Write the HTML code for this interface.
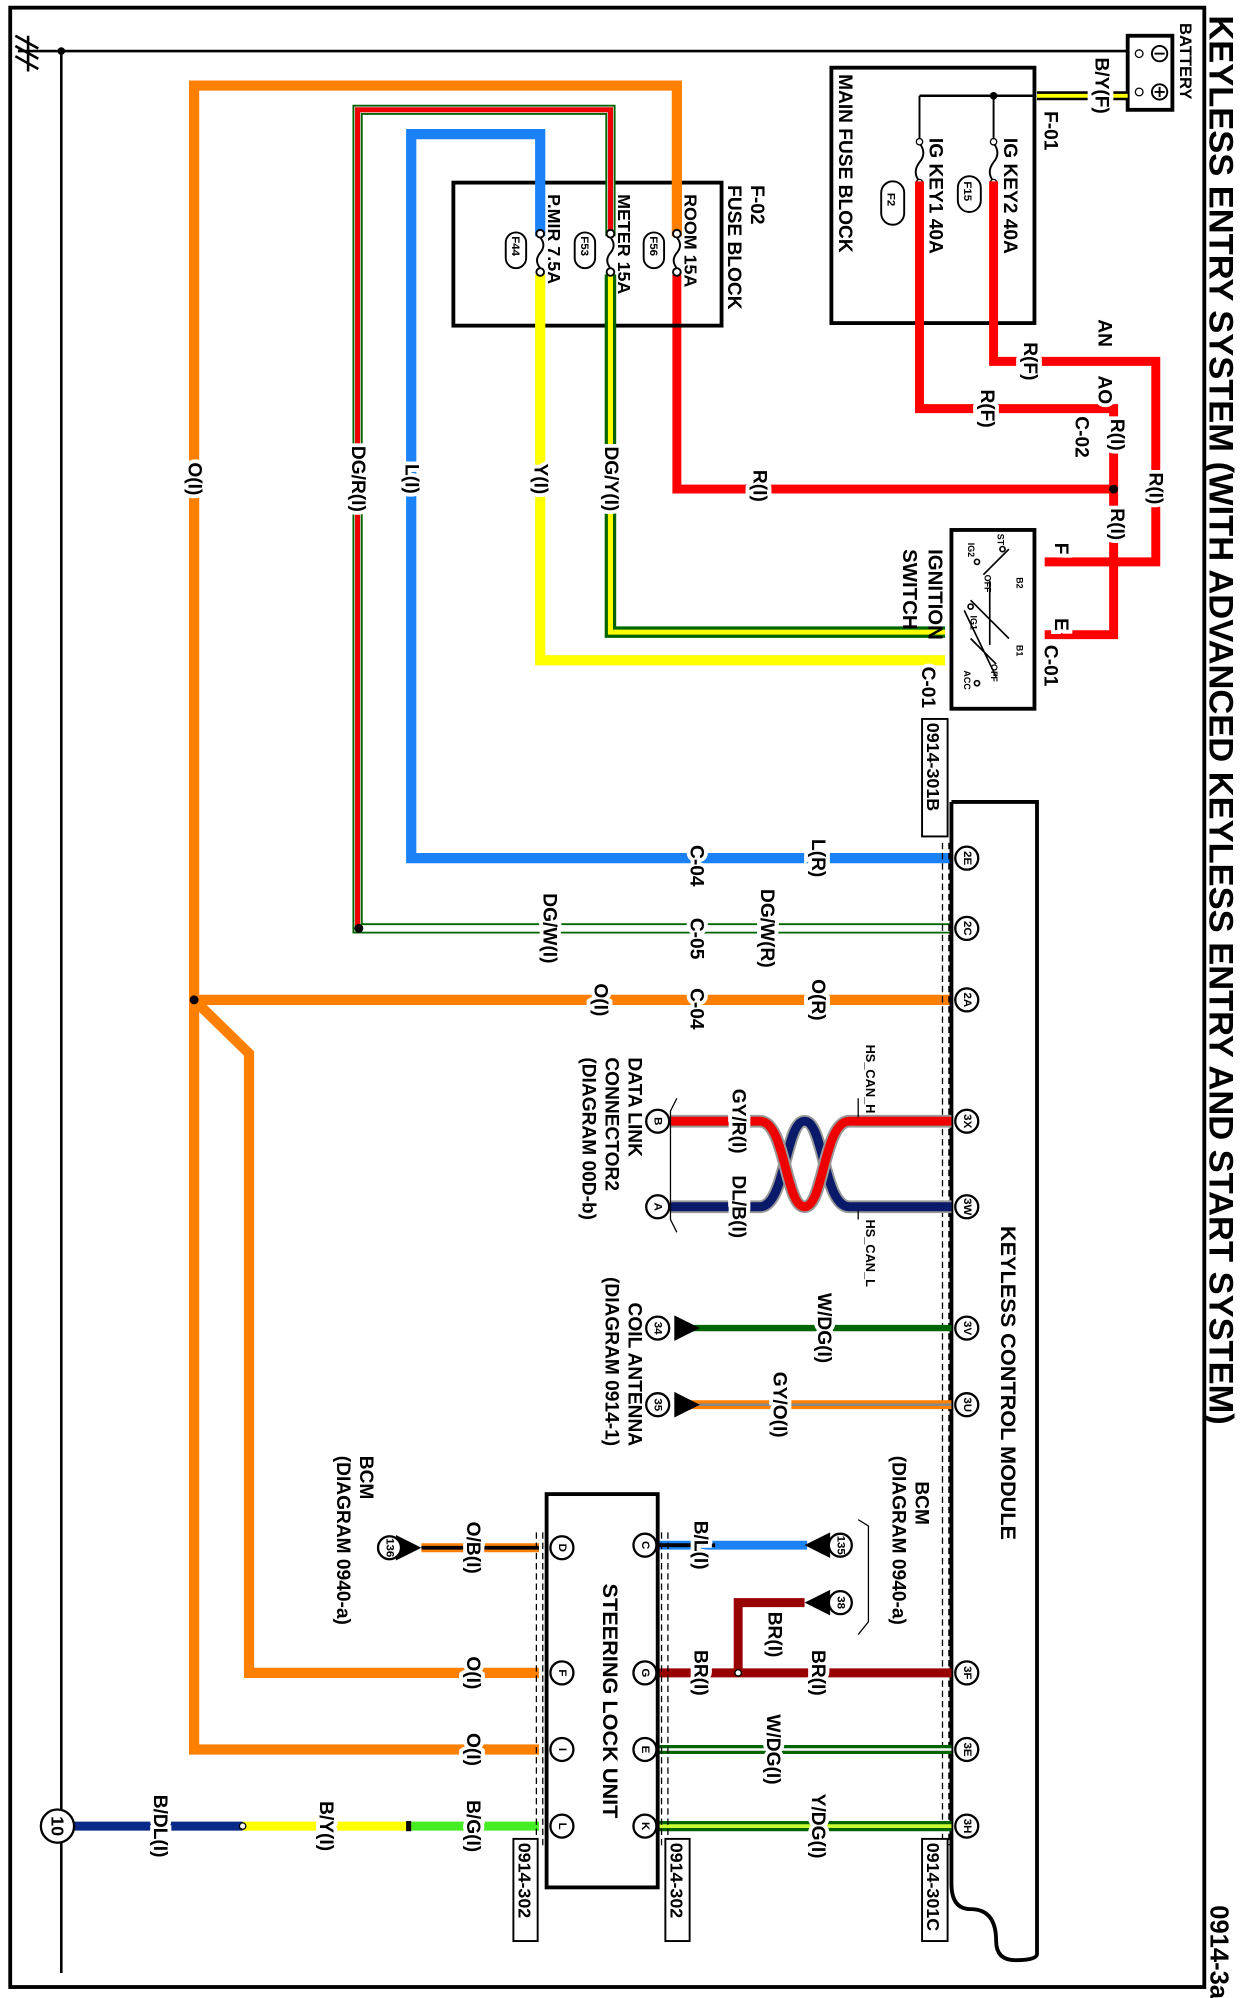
<!DOCTYPE html>
<html><head><meta charset="utf-8"><style>
html,body{margin:0;padding:0;background:#fff;}
svg{display:block;}
text{font-family:"Liberation Sans",sans-serif;font-weight:bold;fill:#000;}
.lb{font-size:15px;paint-order:stroke;stroke:#fff;stroke-width:6px;}
.sm{font-size:9px;}
</style></head><body>
<svg width="1249" height="1998" viewBox="0 0 978 1564.6" preserveAspectRatio="none" xmlns="http://www.w3.org/2000/svg">
<rect x="8" y="6" width="935" height="1550" fill="none" stroke="#000" stroke-width="3"/>
<text transform="translate(947,12) rotate(90)" style="font-size:27px">KEYLESS ENTRY SYSTEM (WITH ADVANCED KEYLESS ENTRY AND START SYSTEM)</text>
<text transform="translate(948,1492) rotate(90)" style="font-size:20px">0914-3a</text>

<g stroke="#000" stroke-width="2" fill="none">
<line x1="14" y1="40" x2="885" y2="40"/>
<line x1="48" y1="40" x2="48" y2="1545"/>
<line x1="12" y1="28" x2="30" y2="38"/><line x1="12" y1="36" x2="30" y2="46"/><line x1="12" y1="44" x2="30" y2="54"/>
<line x1="22" y1="28" x2="22" y2="56"/>
</g>
<circle cx="48" cy="40" r="3"/>
<rect x="883" y="28" width="35" height="58" fill="#fff" stroke="#000" stroke-width="3"/>
<circle cx="908" cy="42" r="6" fill="none" stroke="#000" stroke-width="1.5"/><line x1="904" y1="42" x2="912" y2="42" stroke="#000" stroke-width="1.5"/>
<circle cx="908" cy="72" r="6" fill="none" stroke="#000" stroke-width="1.5"/><path d="M904 72h8M908 68v8" stroke="#000" stroke-width="1.5"/>
<circle cx="892" cy="42" r="3" fill="none" stroke="#000"/><circle cx="892" cy="72" r="3" fill="none" stroke="#000"/>
<text transform="translate(924,18) rotate(90)" style="font-size:13px">BATTERY</text>
<line x1="812" y1="75" x2="883" y2="75" stroke="#000" stroke-width="7"/>
<line x1="812" y1="75" x2="883" y2="75" stroke="#ff0" stroke-width="3"/>
<text class="lb" transform="translate(858,45) rotate(90)">B/Y(F)</text>
<text class="lb" transform="translate(818,87) rotate(90)">F-01</text>

<rect x="651" y="53" width="159" height="200" fill="none" stroke="#000" stroke-width="3"/>
<text transform="translate(657,58) rotate(90)" style="font-size:15px">MAIN FUSE BLOCK</text>
<path d="M720 75H810" stroke="#000" stroke-width="2" fill="none"/>
<path d="M720 75V110M778 75V110" stroke="#000" stroke-width="1.5" fill="none"/>
<circle cx="778" cy="75" r="3"/>
<path d="M778 112 q6 8 0 15 q-6 8 0 15" stroke="#000" fill="none" stroke-width="1.5"/>
<path d="M720 112 q6 8 0 15 q-6 8 0 15" stroke="#000" fill="none" stroke-width="1.5"/>
<circle cx="778" cy="111" r="2.5" fill="#fff" stroke="#000"/><circle cx="778" cy="143" r="2.5" fill="#fff" stroke="#000"/>
<circle cx="720" cy="111" r="2.5" fill="#fff" stroke="#000"/><circle cx="720" cy="143" r="2.5" fill="#fff" stroke="#000"/>
<text transform="translate(786,108) rotate(90)" style="font-size:15px">IG KEY2 40A</text>
<text transform="translate(728,108) rotate(90)" style="font-size:15px">IG KEY1 40A</text>
<rect x="750" y="138" width="18" height="28" rx="9" fill="none" stroke="#000" stroke-width="1.5"/><text transform="translate(755,142) rotate(90)" class="sm">F15</text>
<rect x="690" y="142" width="18" height="34" rx="9" fill="none" stroke="#000" stroke-width="1.5"/><text transform="translate(695,151) rotate(90)" class="sm">F2</text>

<g stroke="#f00" stroke-width="7" fill="none">
<path d="M778 142V283H905V440H818"/>
<path d="M720 142V320H872V497H818"/>
<path d="M530 215V383H872"/>
</g>
<circle cx="872" cy="383" r="3.5"/>
<text class="lb" transform="translate(802,268) rotate(90)">R(F)</text>
<text class="lb" transform="translate(768,305) rotate(90)">R(F)</text>
<text class="lb" transform="translate(860,250) rotate(90)">AN</text>
<text class="lb" transform="translate(860,294) rotate(90)">AO</text>
<text class="lb" transform="translate(842,326) rotate(90)">C-02</text>
<text class="lb" transform="translate(870,328) rotate(90)">R(I)</text>
<text class="lb" transform="translate(900,370) rotate(90)">R(I)</text>
<text class="lb" transform="translate(870,398) rotate(90)">R(I)</text>
<text class="lb" transform="translate(590,368) rotate(90)">R(I)</text>
<text class="lb" transform="translate(826,425) rotate(90)">F</text>
<text class="lb" transform="translate(826,484) rotate(90)">E</text>
<text class="lb" transform="translate(818,505) rotate(90)">C-01</text>

<rect x="355" y="143" width="210" height="112" fill="none" stroke="#000" stroke-width="3"/>
<text transform="translate(588,145) rotate(90)" style="font-size:15px">F-02</text>
<text transform="translate(570,145) rotate(90)" style="font-size:15px">FUSE BLOCK</text>
<text transform="translate(536,152) rotate(90)" style="font-size:14px">ROOM 15A</text>
<text transform="translate(484,152) rotate(90)" style="font-size:14px">METER 15A</text>
<text transform="translate(429,152) rotate(90)" style="font-size:14px">P.MIR 7.5A</text>
<rect x="504" y="182" width="16" height="28" rx="8" fill="none" stroke="#000" stroke-width="1.5"/><text transform="translate(509,185) rotate(90)" class="sm">F56</text>
<rect x="450" y="182" width="16" height="28" rx="8" fill="none" stroke="#000" stroke-width="1.5"/><text transform="translate(455,185) rotate(90)" class="sm">F53</text>
<rect x="396" y="182" width="16" height="28" rx="8" fill="none" stroke="#000" stroke-width="1.5"/><text transform="translate(401,185) rotate(90)" class="sm">F44</text>

<g stroke="#ff8000" stroke-width="8" fill="none">
<path d="M530 185V67H152V1370H422"/>
<path d="M152 783H745"/>
<path d="M152 783L195 825V1310H422"/>
<path d="M330 1212H422" stroke-width="7"/>
</g>
<line x1="330" y1="1212" x2="422" y2="1212" stroke="#000" stroke-width="3"/>
<circle cx="152" cy="783" r="3.5"/>
<path d="M478 185V86H280V727H745" stroke="#006400" stroke-width="8" fill="none"/>
<path d="M478 185V86H280V727H745" stroke="#fff" stroke-width="5" fill="none"/>
<path d="M478 185V86H280V727" stroke="#e00" stroke-width="4" fill="none"/>
<path d="M282 727H745" stroke="#fff" stroke-width="5"/>
<circle cx="281" cy="727" r="3.5"/>
<path d="M478 215V495H740" stroke="#006400" stroke-width="9" fill="none"/>
<path d="M478 215V495H740" stroke="#ff0" stroke-width="4" fill="none"/>
<path d="M423 185V105H322V672H745" stroke="#1a82f5" stroke-width="8" fill="none"/>
<path d="M423 215V517H740" stroke="#ff0" stroke-width="8" fill="none"/>
<g stroke="#000" stroke-width="1.5" fill="#fff">
<circle cx="530" cy="183" r="3"/><circle cx="530" cy="213" r="3"/>
<circle cx="478" cy="183" r="3"/><circle cx="478" cy="213" r="3"/>
<circle cx="423" cy="183" r="3"/><circle cx="423" cy="213" r="3"/>
<path d="M530 186q5 6 0 12q-5 6 0 12M478 186q5 6 0 12q-5 6 0 12M423 186q5 6 0 12q-5 6 0 12" fill="none"/>
</g>
<text class="lb" transform="translate(152,375) rotate(90)" text-anchor="middle" dominant-baseline="central">O(I)</text>
<text class="lb" transform="translate(280,375) rotate(90)" text-anchor="middle" dominant-baseline="central">DG/R(I)</text>
<text class="lb" transform="translate(322,375) rotate(90)" text-anchor="middle" dominant-baseline="central">L(I)</text>
<text class="lb" transform="translate(423,375) rotate(90)" text-anchor="middle" dominant-baseline="central">Y(I)</text>
<text class="lb" transform="translate(478,375) rotate(90)" text-anchor="middle" dominant-baseline="central">DG/Y(I)</text>

<rect x="745" y="415" width="65" height="140" fill="#fff" stroke="#000" stroke-width="3"/>
<g stroke="#000" stroke-width="1.3" fill="none">
<path d="M790 430L770 450M790 500L760 470M775 455L775 505M755 478L780 530M760 500L780 520" />
<circle cx="785" cy="430" r="2"/><circle cx="765" cy="440" r="2"/><circle cx="760" cy="475" r="2"/><circle cx="765" cy="535" r="2"/>
</g>
<text transform="translate(781,418) rotate(90)" style="font-size:7px">ST</text>
<text transform="translate(758,425) rotate(90)" style="font-size:7px">IG2</text>
<text transform="translate(771,450) rotate(90)" style="font-size:7px">OFF</text>
<text transform="translate(796,452) rotate(90)" style="font-size:7px">B2</text>
<text transform="translate(760,482) rotate(90)" style="font-size:7px">IG1</text>
<text transform="translate(796,505) rotate(90)" style="font-size:7px">B1</text>
<text transform="translate(776,520) rotate(90)" style="font-size:7px">OFF</text>
<text transform="translate(755,525) rotate(90)" style="font-size:7px">ACC</text>
<text transform="translate(727,430) rotate(90)" style="font-size:16px">IGNITION</text>
<text transform="translate(707,430) rotate(90)" style="font-size:16px">SWITCH</text>
<text class="lb" transform="translate(722,522) rotate(90)">C-01</text>
<rect x="722" y="563" width="20" height="92" fill="#fff" stroke="#000" stroke-width="1.5"/>
<text transform="translate(726,566) rotate(90)" style="font-size:14px">0914-301B</text>

<path d="M745 628H812V1530 M745 628V1475 q0 20 15 20 q20 0 20 25 q0 15 15 15 q17 0 17 -5" fill="none" stroke="#000" stroke-width="3"/>
<text transform="translate(784,960) rotate(90)" style="font-size:17px">KEYLESS CONTROL MODULE</text>
<line x1="738" y1="660" x2="738" y2="1445" stroke="#000" stroke-dasharray="5,3"/>
<line x1="743" y1="660" x2="743" y2="1445" stroke="#000" stroke-dasharray="5,3"/>

<g fill="none">
<path d="M525 945H595C615 945 615 878 630 878C645 878 645 945 665 945H745" stroke="#999" stroke-width="10"/>
<path d="M525 945H595C615 945 615 878 630 878C645 878 645 945 665 945H745" stroke="#0a1a6a" stroke-width="7"/>
<path d="M525 878H595C615 878 615 945 630 945C645 945 645 878 665 878H745" stroke="#999" stroke-width="10"/>
<path d="M525 878H595C615 878 615 945 630 945C645 945 645 878 665 878H745" stroke="#e00" stroke-width="7"/>
<path d="M540 1040H745" stroke="#006400" stroke-width="5"/>
<path d="M540 1100H745" stroke="#ff8000" stroke-width="7"/>
<path d="M540 1100H745" stroke="#888" stroke-width="2"/>
<path d="M515 1210H632" stroke="#1a82f5" stroke-width="7"/>
<path d="M515 1210H560" stroke="#000" stroke-width="3"/>
<path d="M515 1310H745M578 1310V1255H630" stroke="#900" stroke-width="7"/>
<path d="M515 1370H745" stroke="#006400" stroke-width="7"/>
<path d="M515 1370H745" stroke="#fff" stroke-width="2"/>
<path d="M515 1430H745" stroke="#006400" stroke-width="8"/>
<path d="M515 1430H745" stroke="#ccff33" stroke-width="3"/>
<path d="M322 1430H422" stroke="#44ee22" stroke-width="7"/>
<path d="M190 1430H322" stroke="#ff0" stroke-width="7"/>
<path d="M55 1430H190" stroke="#0a2a8a" stroke-width="7"/>
</g>
<circle cx="578" cy="1310" r="2.5" fill="#fff" stroke="#000"/>
<circle cx="190" cy="1430" r="2.5" fill="#fff" stroke="#000"/>
<rect x="318" y="1426" width="4" height="8"/>
<g>
<path d="M548 1040l-20 -10v20z"/><path d="M548 1100l-20 -10v20z"/>
<path d="M630 1210l20 -10v20z"/><path d="M630 1255l20 -10v20z"/>
<path d="M330 1212l-20 -10v20z"/>
</g>
<g fill="#fff" stroke="#000" stroke-width="1.8">
<circle cx="757" cy="672" r="9"/><circle cx="757" cy="727" r="9"/><circle cx="757" cy="783" r="9"/>
<circle cx="757" cy="878" r="9"/><circle cx="757" cy="945" r="9"/><circle cx="757" cy="1040" r="9"/>
<circle cx="757" cy="1100" r="9"/><circle cx="757" cy="1310" r="9"/><circle cx="757" cy="1370" r="9"/><circle cx="757" cy="1430" r="9"/>
<circle cx="515" cy="878" r="9"/><circle cx="515" cy="945" r="9"/><circle cx="515" cy="1040" r="9"/><circle cx="515" cy="1100" r="9"/>
<circle cx="658" cy="1210" r="9"/><circle cx="658" cy="1255" r="9"/><circle cx="305" cy="1212" r="9"/>
<circle cx="505" cy="1210" r="9"/><circle cx="505" cy="1310" r="9"/><circle cx="505" cy="1370" r="9"/><circle cx="505" cy="1430" r="9"/>
<circle cx="440" cy="1212" r="9"/><circle cx="440" cy="1310" r="9"/><circle cx="440" cy="1370" r="9"/><circle cx="440" cy="1430" r="9"/>
<circle cx="45" cy="1430" r="13"/>
</g>
<g style="font-size:9px" text-anchor="middle" dominant-baseline="central">
<text transform="translate(757,672) rotate(90)">2E</text><text transform="translate(757,727) rotate(90)">2C</text><text transform="translate(757,783) rotate(90)">2A</text>
<text transform="translate(757,878) rotate(90)">3X</text><text transform="translate(757,945) rotate(90)">3W</text><text transform="translate(757,1040) rotate(90)">3V</text>
<text transform="translate(757,1100) rotate(90)">3U</text><text transform="translate(757,1310) rotate(90)">3F</text><text transform="translate(757,1370) rotate(90)">3E</text><text transform="translate(757,1430) rotate(90)">3H</text>
<text transform="translate(515,878) rotate(90)">B</text><text transform="translate(515,945) rotate(90)">A</text><text transform="translate(515,1040) rotate(90)">34</text><text transform="translate(515,1100) rotate(90)">35</text>
<text transform="translate(658,1210) rotate(90)">135</text><text transform="translate(658,1255) rotate(90)">38</text><text transform="translate(305,1212) rotate(90)">136</text>
<text transform="translate(505,1210) rotate(90)">C</text><text transform="translate(505,1310) rotate(90)">G</text><text transform="translate(505,1370) rotate(90)">E</text><text transform="translate(505,1430) rotate(90)">K</text>
<text transform="translate(440,1212) rotate(90)">D</text><text transform="translate(440,1310) rotate(90)">F</text><text transform="translate(440,1370) rotate(90)">I</text><text transform="translate(440,1430) rotate(90)">L</text>
<text transform="translate(45,1430) rotate(90)" style="font-size:14px">10</text>
</g>

<g class="lb" text-anchor="middle" dominant-baseline="central">
<text class="lb" transform="translate(640,672) rotate(90)">L(R)</text>
<text class="lb" transform="translate(600,727) rotate(90)">DG/W(R)</text>
<text class="lb" transform="translate(430,727) rotate(90)">DG/W(I)</text>
<text class="lb" transform="translate(640,783) rotate(90)">O(R)</text>
<text class="lb" transform="translate(470,783) rotate(90)">O(I)</text>
<text class="lb" transform="translate(545,678) rotate(90)">C-04</text>
<text class="lb" transform="translate(545,735) rotate(90)">C-05</text>
<text class="lb" transform="translate(545,790) rotate(90)">C-04</text>
<text class="lb" transform="translate(578,878) rotate(90)">GY/R(I)</text>
<text class="lb" transform="translate(578,945) rotate(90)">DL/B(I)</text>
<text class="lb" transform="translate(645,1040) rotate(90)">W/DG(I)</text>
<text class="lb" transform="translate(610,1100) rotate(90)">GY/O(I)</text>
<text class="lb" transform="translate(548,1210) rotate(90)">B/L(I)</text>
<text class="lb" transform="translate(606,1280) rotate(90)">BR(I)</text>
<text class="lb" transform="translate(548,1310) rotate(90)">BR(I)</text>
<text class="lb" transform="translate(640,1310) rotate(90)">BR(I)</text>
<text class="lb" transform="translate(605,1370) rotate(90)">W/DG(I)</text>
<text class="lb" transform="translate(640,1430) rotate(90)">Y/DG(I)</text>
<text class="lb" transform="translate(370,1212) rotate(90)">O/B(I)</text>
<text class="lb" transform="translate(370,1310) rotate(90)">O(I)</text>
<text class="lb" transform="translate(370,1370) rotate(90)">O(I)</text>
<text class="lb" transform="translate(370,1430) rotate(90)">B/G(I)</text>
<text class="lb" transform="translate(255,1430) rotate(90)">B/Y(I)</text>
<text class="lb" transform="translate(125,1430) rotate(90)">B/DL(I)</text>
</g>
<text transform="translate(678,818) rotate(90)" style="font-size:10px">HS_CAN_H</text>
<text transform="translate(678,955) rotate(90)" style="font-size:10px">HS_CAN_L</text>
<path d="M672 860V875M672 948V955" stroke="#000"/>
<g style="font-size:15px">
<text transform="translate(502,828) rotate(90)" dominant-baseline="hanging">DATA LINK</text>
<text transform="translate(484,828) rotate(90)" dominant-baseline="hanging">CONNECTOR2</text>
<text transform="translate(466,828) rotate(90)" dominant-baseline="hanging">(DIAGRAM 00D-b)</text>
<text transform="translate(502,1020) rotate(90)" dominant-baseline="hanging">COIL ANTENNA</text>
<text transform="translate(484,1000) rotate(90)" dominant-baseline="hanging">(DIAGRAM 0914-1)</text>
<text transform="translate(727,1160) rotate(90)" dominant-baseline="hanging">BCM</text>
<text transform="translate(709,1140) rotate(90)" dominant-baseline="hanging">(DIAGRAM 0940-a)</text>
<text transform="translate(292,1140) rotate(90)" dominant-baseline="hanging">BCM</text>
<text transform="translate(274,1140) rotate(90)" dominant-baseline="hanging">(DIAGRAM 0940-a)</text>
</g>
<path d="M530 860L525 870V955L530 965" stroke="#000" fill="none"/>
<path d="M672 1190L680 1195V1270L672 1280" stroke="#000" fill="none"/>

<rect x="428" y="1170" width="87" height="308" fill="none" stroke="#000" stroke-width="3"/>
<text transform="translate(472,1240) rotate(90)" style="font-size:17px">STEERING LOCK UNIT</text>
<line x1="420" y1="1200" x2="420" y2="1445" stroke="#000" stroke-dasharray="5,3"/>
<line x1="425" y1="1200" x2="425" y2="1445" stroke="#000" stroke-dasharray="5,3"/>
<line x1="518" y1="1200" x2="518" y2="1445" stroke="#000" stroke-dasharray="5,3"/>
<line x1="523" y1="1200" x2="523" y2="1445" stroke="#000" stroke-dasharray="5,3"/>
<rect x="402" y="1440" width="19" height="80" fill="#fff" stroke="#000" stroke-width="1.5"/>
<text transform="translate(406,1443) rotate(90)" style="font-size:14px">0914-302</text>
<rect x="521" y="1440" width="19" height="80" fill="#fff" stroke="#000" stroke-width="1.5"/>
<text transform="translate(525,1443) rotate(90)" style="font-size:14px">0914-302</text>
<rect x="722" y="1440" width="20" height="80" fill="#fff" stroke="#000" stroke-width="1.5"/>
<text transform="translate(726,1443) rotate(90)" style="font-size:14px">0914-301C</text>
</svg>
</body></html>
